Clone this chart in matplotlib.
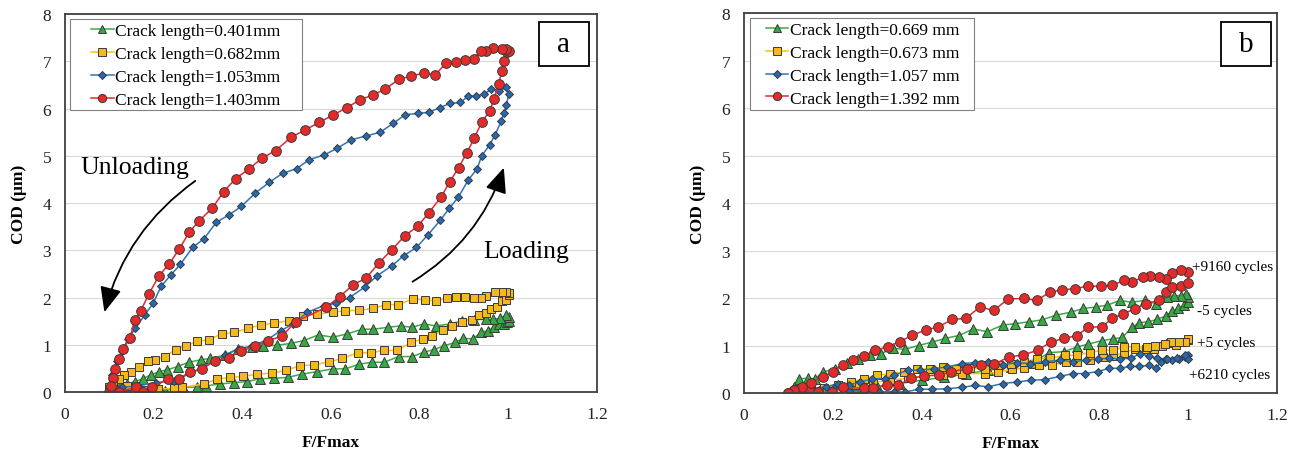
import matplotlib.pyplot as plt
from matplotlib.patches import Rectangle

plt.rcParams["font.family"] = "Liberation Serif"

# ---- panel a: loading branch (left to right) then unloading branch (right to left)
a_labels = ["Crack length=0.401mm", "Crack length=0.682mm",
            "Crack length=1.053mm", "Crack length=1.403mm"]

a_0401_x = [0.101, 0.121, 0.141, 0.167, 0.197, 0.225, 0.266, 0.298, 0.318, 0.350, 0.382, 0.411,
            0.439, 0.471, 0.503, 0.535, 0.568, 0.604, 0.632, 0.664, 0.692, 0.720, 0.753, 0.783,
            0.809, 0.833, 0.856, 0.880, 0.899, 0.920, 0.938, 0.954, 0.968, 0.980, 0.990, 0.998, 1.001,
            1.001, 0.994, 0.982, 0.966, 0.950, 0.922, 0.896, 0.869, 0.837, 0.809, 0.783, 0.757,
            0.729, 0.696, 0.671, 0.636, 0.604, 0.572, 0.539, 0.510, 0.479, 0.447, 0.421, 0.390,
            0.360, 0.328, 0.306, 0.279, 0.254, 0.231, 0.212, 0.193, 0.175, 0.157, 0.141, 0.125,
            0.109, 0.101]
a_0401_y = [0.03, 0.06, 0.05, 0.08, 0.10, 0.03, 0.10, 0.10, 0.13, 0.17, 0.20, 0.22,
            0.28, 0.29, 0.31, 0.38, 0.43, 0.49, 0.49, 0.59, 0.63, 0.63, 0.75, 0.75,
            0.84, 0.90, 0.98, 1.05, 1.14, 1.12, 1.26, 1.30, 1.37, 1.44, 1.44, 1.49, 1.51,
            1.58, 1.62, 1.56, 1.54, 1.54, 1.53, 1.51, 1.44, 1.40, 1.44, 1.37, 1.40,
            1.37, 1.33, 1.33, 1.23, 1.16, 1.21, 1.09, 1.03, 0.99, 0.97, 0.96, 0.92,
            0.78, 0.71, 0.68, 0.63, 0.54, 0.47, 0.43, 0.36, 0.28, 0.22, 0.17, 0.13,
            0.10, 0.06]

a_0682_x = [0.100, 0.117, 0.140, 0.175, 0.210, 0.245, 0.263, 0.314, 0.342, 0.373, 0.402, 0.434,
            0.467, 0.499, 0.531, 0.561, 0.596, 0.625, 0.660, 0.690, 0.719, 0.749, 0.781, 0.807,
            0.829, 0.853, 0.873, 0.896, 0.918, 0.934, 0.950, 0.962, 0.974, 0.986, 0.994, 1.001,
            1.001, 0.994, 0.985, 0.970, 0.950, 0.938, 0.922, 0.902, 0.881, 0.861, 0.837, 0.813,
            0.785, 0.751, 0.725, 0.695, 0.664, 0.632, 0.604, 0.569, 0.537, 0.505, 0.471, 0.443,
            0.413, 0.382, 0.354, 0.324, 0.298, 0.274, 0.250, 0.225, 0.204, 0.188, 0.167, 0.149,
            0.134, 0.121, 0.109, 0.099]
a_0682_y = [0.05, 0.02, 0.12, 0.05, 0.06, 0.08, 0.10, 0.17, 0.27, 0.31, 0.33, 0.38,
            0.40, 0.46, 0.56, 0.57, 0.64, 0.71, 0.83, 0.83, 0.88, 0.88, 1.05, 1.12,
            1.18, 1.32, 1.39, 1.49, 1.53, 1.62, 1.68, 1.75, 1.80, 1.92, 1.94, 2.05,
            2.10, 2.11, 2.11, 2.11, 2.04, 2.00, 2.00, 2.02, 2.02, 1.98, 1.93, 1.95,
            1.97, 1.85, 1.85, 1.77, 1.73, 1.72, 1.69, 1.65, 1.60, 1.51, 1.46, 1.42,
            1.35, 1.26, 1.23, 1.11, 1.07, 0.98, 0.90, 0.75, 0.68, 0.65, 0.54, 0.42,
            0.35, 0.28, 0.17, 0.10]

a_1053_x = [0.101, 0.129, 0.165, 0.205, 0.246, 0.306, 0.360, 0.390, 0.423, 0.457, 0.487, 0.515,
            0.547, 0.584, 0.612, 0.642, 0.676, 0.704, 0.737, 0.765, 0.793, 0.819, 0.847, 0.867,
            0.887, 0.910, 0.930, 0.940, 0.958, 0.970, 0.984, 0.990, 0.996, 1.001,
            0.996, 0.980, 0.962, 0.946, 0.928, 0.910, 0.891, 0.869, 0.845, 0.821, 0.797, 0.767,
            0.741, 0.711, 0.679, 0.646, 0.614, 0.585, 0.551, 0.523, 0.491, 0.461, 0.429, 0.398,
            0.370, 0.341, 0.314, 0.288, 0.260, 0.239, 0.217, 0.199, 0.180, 0.159, 0.142, 0.129,
            0.117, 0.107, 0.101]
a_1053_y = [0.03, 0.10, 0.13, 0.20, 0.24, 0.49, 0.78, 0.90, 0.98, 1.11, 1.30, 1.44,
            1.69, 1.83, 1.88, 2.00, 2.22, 2.46, 2.67, 2.89, 3.06, 3.33, 3.64, 3.89,
            4.12, 4.49, 4.73, 5.00, 5.23, 5.44, 5.73, 5.90, 6.07, 6.31,
            6.45, 6.38, 6.41, 6.31, 6.27, 6.26, 6.13, 6.11, 6.02, 5.92, 5.90, 5.87,
            5.69, 5.50, 5.42, 5.34, 5.16, 5.02, 4.92, 4.73, 4.63, 4.44, 4.21, 3.93,
            3.75, 3.59, 3.25, 3.06, 2.70, 2.48, 2.24, 1.88, 1.63, 1.35, 1.12, 0.87,
            0.66, 0.35, 0.13]

a_1403_x = [0.100, 0.121, 0.161, 0.177, 0.197, 0.233, 0.258, 0.282, 0.310, 0.338, 0.370, 0.398,
            0.429, 0.459, 0.489, 0.521, 0.588, 0.620, 0.650, 0.679, 0.708, 0.737, 0.767, 0.797,
            0.821, 0.848, 0.868, 0.888, 0.907, 0.923, 0.940, 0.958, 0.968, 0.978, 0.986, 0.990, 0.998,
            1.002, 0.996, 0.986, 0.966, 0.950, 0.938, 0.922, 0.902, 0.883, 0.859, 0.835, 0.809,
            0.781, 0.753, 0.722, 0.695, 0.666, 0.636, 0.604, 0.574, 0.542, 0.510, 0.475, 0.444,
            0.415, 0.385, 0.358, 0.332, 0.303, 0.280, 0.258, 0.235, 0.212, 0.189, 0.171, 0.157,
            0.147, 0.131, 0.123, 0.114, 0.109, 0.103]
a_1403_y = [0.00, 0.01, 0.10, 0.01, 0.10, 0.28, 0.28, 0.43, 0.49, 0.66, 0.73, 0.87,
            0.97, 1.09, 1.18, 1.49, 1.79, 2.02, 2.27, 2.41, 2.73, 3.01, 3.31, 3.52,
            3.80, 4.12, 4.45, 4.75, 5.07, 5.37, 5.71, 5.95, 6.20, 6.52, 6.80, 7.01, 7.19,
            7.22, 7.27, 7.26, 7.29, 7.22, 7.22, 7.06, 7.03, 6.98, 6.96, 6.71, 6.75,
            6.69, 6.62, 6.41, 6.29, 6.19, 6.02, 5.86, 5.71, 5.55, 5.39, 5.11, 4.95,
            4.72, 4.52, 4.24, 3.89, 3.63, 3.38, 3.03, 2.71, 2.46, 2.07, 1.72, 1.53,
            1.14, 0.91, 0.70, 0.49, 0.30, 0.13]

# ---- panel b
b_labels = ["Crack length=0.669 mm", "Crack length=0.673 mm",
            "Crack length=1.057 mm", "Crack length=1.392 mm"]
b_notes = ["+9160 cycles", "-5 cycles", "+5 cycles", "+6210 cycles"]
b_note_x = [1.009, 1.020, 1.020, 1.002]
b_note_y = [2.67, 1.73, 1.07, 0.38]

b_0669_x = [0.100, 0.130, 0.160, 0.200, 0.250, 0.300, 0.350, 0.400, 0.450, 0.500, 0.550, 0.600,
            0.650, 0.686, 0.720, 0.750, 0.775, 0.805, 0.830, 0.852, 0.873, 0.890, 0.910, 0.930,
            0.949, 0.964, 0.978, 0.990, 1.000,
            1.000, 0.996, 0.983, 0.968, 0.953, 0.928, 0.902, 0.873, 0.846, 0.818, 0.792, 0.764,
            0.735, 0.703, 0.671, 0.642, 0.611, 0.582, 0.548, 0.516, 0.484, 0.453, 0.423, 0.393,
            0.362, 0.336, 0.308, 0.283, 0.257, 0.232, 0.204, 0.177, 0.160, 0.143, 0.124, 0.113, 0.104]
b_0669_y = [0.00, 0.00, 0.02, 0.05, 0.10, 0.14, 0.20, 0.27, 0.33, 0.40, 0.48, 0.55,
            0.63, 0.85, 0.87, 0.97, 1.03, 1.10, 1.14, 1.17, 1.38, 1.48, 1.50, 1.55,
            1.62, 1.72, 1.78, 1.85, 1.92,
            2.03, 2.09, 2.05, 2.05, 2.02, 1.88, 1.95, 1.91, 1.95, 1.85, 1.81, 1.78,
            1.70, 1.64, 1.54, 1.50, 1.46, 1.43, 1.29, 1.35, 1.21, 1.15, 1.07, 1.00,
            0.92, 0.94, 0.83, 0.79, 0.72, 0.63, 0.51, 0.44, 0.30, 0.31, 0.30, 0.13, 0.02]

b_0673_x = [0.109, 0.143, 0.177, 0.215, 0.253, 0.291, 0.329, 0.368, 0.406, 0.448, 0.491, 0.542,
            0.571, 0.603, 0.631, 0.665, 0.694, 0.724, 0.750, 0.779, 0.809, 0.830, 0.856, 0.880,
            0.905, 0.924, 0.941, 0.958, 0.973, 0.985, 1.000,
            1.000, 0.993, 0.979, 0.962, 0.947, 0.925, 0.907, 0.881, 0.856, 0.830, 0.805, 0.779,
            0.750, 0.722, 0.688, 0.660, 0.631, 0.601, 0.571, 0.542, 0.509, 0.478, 0.448, 0.419,
            0.389, 0.359, 0.329, 0.300, 0.270, 0.240, 0.211, 0.181, 0.151, 0.126, 0.109]
b_0673_y = [0.00, 0.02, 0.05, 0.10, 0.16, 0.22, 0.27, 0.31, 0.36, 0.38, 0.41, 0.41,
            0.44, 0.50, 0.52, 0.58, 0.59, 0.65, 0.65, 0.70, 0.76, 0.78, 0.85, 0.93,
            0.93, 0.92, 1.00, 1.06, 1.01, 1.07, 1.11,
            1.14, 1.08, 1.07, 1.07, 1.04, 1.00, 0.97, 0.97, 0.97, 0.90, 0.90, 0.85,
            0.80, 0.79, 0.73, 0.72, 0.66, 0.62, 0.59, 0.51, 0.52, 0.51, 0.55, 0.51,
            0.50, 0.44, 0.41, 0.37, 0.30, 0.23, 0.16, 0.10, 0.06, 0.02, 0.01]

b_1057_x = [0.104, 0.130, 0.168, 0.202, 0.236, 0.270, 0.304, 0.338, 0.363, 0.393, 0.423, 0.458,
            0.491, 0.520, 0.550, 0.582, 0.614, 0.645, 0.677, 0.711, 0.741, 0.767, 0.796, 0.822,
            0.846, 0.869, 0.890, 0.911, 0.928, 0.939, 0.949, 0.964, 0.979, 0.992, 1.000,
            1.000, 0.992, 0.975, 0.953, 0.930, 0.911, 0.891, 0.871, 0.846, 0.822, 0.796, 0.769,
            0.741, 0.711, 0.677, 0.644, 0.614, 0.582, 0.550, 0.520, 0.491, 0.457, 0.427, 0.397,
            0.368, 0.338, 0.317, 0.289, 0.261, 0.236, 0.211, 0.185, 0.155, 0.130, 0.109]
b_1057_y = [0.00, 0.02, 0.06, 0.10, 0.05, 0.03, 0.03, 0.03, 0.02, 0.08, 0.08, 0.09,
            0.12, 0.16, 0.13, 0.20, 0.23, 0.27, 0.28, 0.35, 0.41, 0.41, 0.45, 0.52,
            0.52, 0.56, 0.56, 0.58, 0.52, 0.66, 0.72, 0.69, 0.72, 0.76, 0.79,
            0.71, 0.80, 0.73, 0.72, 0.73, 0.78, 0.83, 0.73, 0.72, 0.73, 0.72, 0.69,
            0.66, 0.69, 0.66, 0.62, 0.64, 0.59, 0.65, 0.64, 0.62, 0.55, 0.51, 0.48,
            0.48, 0.37, 0.30, 0.30, 0.23, 0.17, 0.20, 0.13, 0.08, 0.03, 0.00]

b_1392_x = [0.100, 0.113, 0.127, 0.147, 0.166, 0.198, 0.223, 0.270, 0.291, 0.321, 0.346, 0.376,
            0.406, 0.440, 0.467, 0.501, 0.533, 0.563, 0.597, 0.628, 0.661, 0.690, 0.720, 0.750,
            0.775, 0.805, 0.829, 0.854, 0.880, 0.905, 0.934, 0.949, 0.964, 0.983, 1.000,
            1.000, 0.983, 0.964, 0.949, 0.934, 0.915, 0.898, 0.874, 0.856, 0.829, 0.803, 0.775,
            0.745, 0.716, 0.688, 0.659, 0.631, 0.594, 0.563, 0.531, 0.499, 0.469, 0.437, 0.410,
            0.379, 0.351, 0.323, 0.295, 0.270, 0.245, 0.223, 0.200, 0.177, 0.151, 0.130, 0.113, 0.100]
b_1392_y = [0.00, 0.06, 0.08, 0.09, 0.02, 0.02, 0.12, 0.10, 0.10, 0.16, 0.16, 0.31,
            0.36, 0.38, 0.45, 0.51, 0.59, 0.61, 0.76, 0.80, 0.90, 1.07, 1.15, 1.21,
            1.39, 1.39, 1.57, 1.67, 1.77, 1.88, 1.95, 2.12, 2.23, 2.25, 2.32,
            2.54, 2.58, 2.53, 2.40, 2.44, 2.46, 2.45, 2.33, 2.37, 2.27, 2.25, 2.25,
            2.20, 2.17, 2.12, 1.95, 1.99, 1.98, 1.74, 1.81, 1.57, 1.55, 1.39, 1.33,
            1.22, 1.08, 0.97, 0.90, 0.77, 0.70, 0.60, 0.44, 0.34, 0.22, 0.13, 0.06, 0.00]

line_colors = ["#3DAA47", "#FFC000", "#2E75B6", "#E8262B"]
face_colors = ["#38A845", "#F6B91C", "#2469B3", "#E52A2A"]
markers = ["^", "s", "D", "o"]
msizes = [6.5, 6.0, 4.5, 7.0]
EDGE = "#3a3a3a"


def style_axes(ax):
    ax.set_xlim(0, 1.2)
    ax.set_ylim(0, 8)
    ax.set_xticks([0, 0.2, 0.4, 0.6, 0.8, 1.0, 1.2])
    ax.set_xticklabels(["0", "0.2", "0.4", "0.6", "0.8", "1", "1.2"])
    ax.set_yticks(range(0, 9))
    ax.tick_params(length=0, labelsize=12.5, pad=10, colors="#222222")
    ax.yaxis.grid(True, color="#d9d9d9", lw=0.8)
    ax.set_axisbelow(True)
    for s in ax.spines.values():
        s.set_color("#404040")
        s.set_linewidth(1.3)
    ax.set_xlabel("F/Fmax", fontsize=12.5, fontweight="bold", labelpad=9)
    ax.set_ylabel("COD (\u03bcm)", fontsize=12.5, fontweight="bold", labelpad=11)


def draw_series(ax, xs, ys, labels):
    for i, (x, y, lab) in enumerate(zip(xs, ys, labels)):
        ax.plot(x, y, color=line_colors[i], lw=1.1, marker=markers[i], ms=msizes[i],
                mfc=face_colors[i], mec=EDGE, mew=0.7, label=lab)


def boxed_legend(ax, frame, anchor):
    # frame drawn by hand: the original legend box has a wide left margin
    x0, y0, x1, y1 = frame
    ax.add_patch(Rectangle((x0, y0), x1 - x0, y1 - y0, transform=ax.transAxes,
                           facecolor="white", edgecolor="#808080", lw=0.8, zorder=4))
    leg = ax.legend(loc="upper left", bbox_to_anchor=anchor, borderaxespad=0,
                    borderpad=0, fontsize=12.5, frameon=False, handlelength=1.3,
                    handletextpad=0.1, labelspacing=0.38, markerscale=0.85)
    leg.set_zorder(5)


def panel_tag(ax, letter, x0, y0, w, h):
    ax.add_patch(Rectangle((x0, y0), w, h, transform=ax.transAxes, fill=True,
                           facecolor="white", edgecolor="black", lw=1.3, zorder=5))
    ax.text(x0 + w / 2, y0 + h / 2, letter, transform=ax.transAxes, fontsize=21,
            ha="center", va="center", zorder=6)


fig = plt.figure(figsize=(12.94, 4.52), dpi=100)
ax1 = fig.add_axes([0.0502, 0.1305, 0.4111, 0.836])
ax2 = fig.add_axes([0.5750, 0.1283, 0.4119, 0.8407])

# panel a
style_axes(ax1)
draw_series(ax1, [a_0401_x, a_0682_x, a_1053_x, a_1403_x],
            [a_0401_y, a_0682_y, a_1053_y, a_1403_y], a_labels)
boxed_legend(ax1, (0.0087, 0.746, 0.445, 0.987), (0.049, 0.976))
panel_tag(ax1, "a", 0.891, 0.862, 0.094, 0.116)

arrow_style = "-|>,head_length=0.7,head_width=0.3"
ax1.annotate("", xy=(0.089, 1.69), xytext=(0.294, 4.47),
             arrowprops=dict(arrowstyle=arrow_style, color="black", lw=1.3, mutation_scale=22,
                             shrinkA=0, shrinkB=0, connectionstyle="arc3,rad=0.18"))
ax1.annotate("", xy=(0.99, 4.75), xytext=(0.784, 2.335),
             arrowprops=dict(arrowstyle=arrow_style, color="black", lw=1.3, mutation_scale=22,
                             shrinkA=0, shrinkB=0, connectionstyle="arc3,rad=0.18"))
ax1.text(0.035, 4.76, "Unloading", fontsize=18.5, ha="left", va="center")
ax1.text(0.943, 2.98, "Loading", fontsize=18.5, ha="left", va="center")

# panel b
style_axes(ax2)
draw_series(ax2, [b_0669_x, b_0673_x, b_1057_x, b_1392_x],
            [b_0669_y, b_0673_y, b_1057_y, b_1392_y], b_labels)
boxed_legend(ax2, (0.0106, 0.745, 0.432, 0.987), (0.041, 0.976))
panel_tag(ax2, "b", 0.895, 0.861, 0.094, 0.116)

for note, nx, ny in zip(b_notes, b_note_x, b_note_y):
    ax2.text(nx, ny, note, fontsize=11, ha="left", va="center")

fig.savefig("out.png", dpi=100)
